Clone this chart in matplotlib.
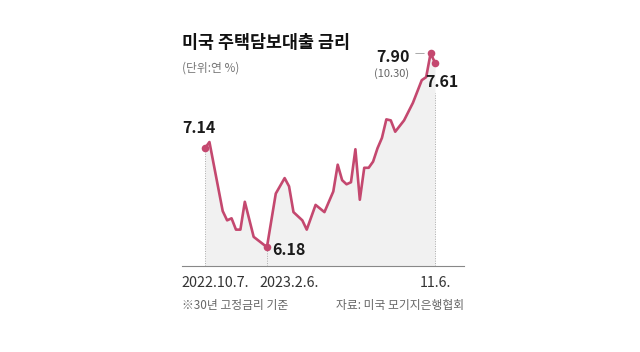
import matplotlib
matplotlib.use("Agg")
import matplotlib.pyplot as plt

plt.rcParams['font.family'] = ['Noto Sans CJK KR', 'DejaVu Sans']

# Data (weekly index positions, values in %)
week_idx = [0, 1, 4, 5, 6, 7, 8, 9, 11, 14, 16, 18, 19, 20, 22, 23, 25, 27, 29, 30,
            31, 32, 33, 34, 35, 36, 37, 38, 39, 40, 41, 42, 43, 45, 47, 49, 50, 51, 52]
rates = [7.14, 7.20, 6.53, 6.44, 6.46, 6.35, 6.35, 6.62, 6.28, 6.18, 6.70, 6.85, 6.77,
         6.52, 6.44, 6.35, 6.59, 6.52, 6.72, 6.98, 6.83, 6.79, 6.81, 7.13, 6.64, 6.95,
         6.95, 7.01, 7.14, 7.24, 7.42, 7.41, 7.30, 7.41, 7.58, 7.80, 7.83, 8.06, 7.97]
tick_idx = [0, 14, 52]
tick_labels = ["2022.10.7.", "2023.2.6.", "11.6."]

line_color = "#c4486f"

fig = plt.figure(figsize=(6.4, 3.52), dpi=100)
ax = fig.add_axes([181.7/640, 1 - 265.7/352, 282.6/640, 225.7/352])
ax.set_xlim(-5.27, 58.62)
ax.set_ylim(6.0, 8.19)

ax.fill_between(week_idx, rates, 6.0, color="#f1f1f1", lw=0, zorder=1)
ax.plot(week_idx, rates, color=line_color, lw=1.9, solid_joinstyle="round", zorder=3)

# dotted guides
i0, i1, i2 = 0, week_idx.index(14), len(week_idx) - 1
ax.vlines([week_idx[i0], week_idx[i1]], 6.0, [rates[i0], rates[i1]],
          colors="#aaaaaa", linestyles=(0, (1, 1.5)), lw=0.7, zorder=2)
ax.vlines(week_idx[i2], 6.0, 7.68, colors="#aaaaaa", linestyles=(0, (1, 1.5)), lw=0.7, zorder=2)

# markers
mk = [i0, i1, len(week_idx) - 2, i2]
ax.scatter([week_idx[i] for i in mk], [rates[i] for i in mk], s=30, color=line_color, zorder=4, lw=0)

num_font = dict(fontsize=11.5, color="#1a1a1a", fontweight="bold")
ax.annotate("7.14", (week_idx[i0], rates[i0]), xytext=(-4.3, 14.4), textcoords="offset points",
            ha="center", va="center", **num_font)
ax.annotate("6.18", (week_idx[i1], rates[i1]), xytext=(4, -2), textcoords="offset points",
            ha="left", va="center", **num_font)
ax.annotate("7.90", (week_idx[-2], rates[-2]), xytext=(-15, -2.4), textcoords="offset points",
            ha="right", va="center", **num_font)
ax.annotate("(10.30)", (week_idx[-2], rates[-2]), xytext=(-15.3, -14.4), textcoords="offset points",
            ha="right", va="center", fontsize=8, color="#666666")
ax.annotate("", (week_idx[-2] - 0.8, rates[-2]), xytext=(week_idx[-2] - 4.0, rates[-2]),
            arrowprops=dict(arrowstyle="-", color="#999999", lw=0.6))
ax.annotate("7.61", (week_idx[-1], rates[-1]), xytext=(5, -14), textcoords="offset points",
            ha="center", va="center", **num_font)

for s in ["top", "right", "left"]:
    ax.spines[s].set_visible(False)
ax.spines["bottom"].set_color("#888888")
ax.spines["bottom"].set_linewidth(0.8)
ax.set_yticks([])
ax.set_xticks(tick_idx)
ax.set_xticklabels([])
ax.tick_params(axis="x", length=0)
ax.patch.set_alpha(0)

tick_offsets = [(-16.8, "left"), (-5.3, "left"), (0, "center")]
for idx, lab, (dx, ha) in zip(tick_idx, tick_labels, tick_offsets):
    ax.annotate(lab, (idx, 0), xycoords=("data", "axes fraction"), xytext=(dx, -12.2),
                textcoords="offset points", ha=ha, va="center", fontsize=10.3,
                color="#333333")

fig.text(181.7/640, 1 - 43.3/352, "미국 주택담보대출 금리", fontsize=12.5, fontweight="bold",
         color="#111111", ha="left", va="center")
fig.text(181.7/640, 1 - 68.3/352, "(단위:연 %)", fontsize=8.5, color="#777777", ha="left", va="center")
fig.text(181.7/640, 1 - 305/352, "※30년 고정금리 기준", fontsize=8.5, color="#666666",
         ha="left", va="center")
fig.text(464.3/640, 1 - 305/352, "자료: 미국 모기지은행협회", fontsize=8.5, color="#666666",
         ha="right", va="center")

fig.savefig("out.png", dpi=100, facecolor="white")
